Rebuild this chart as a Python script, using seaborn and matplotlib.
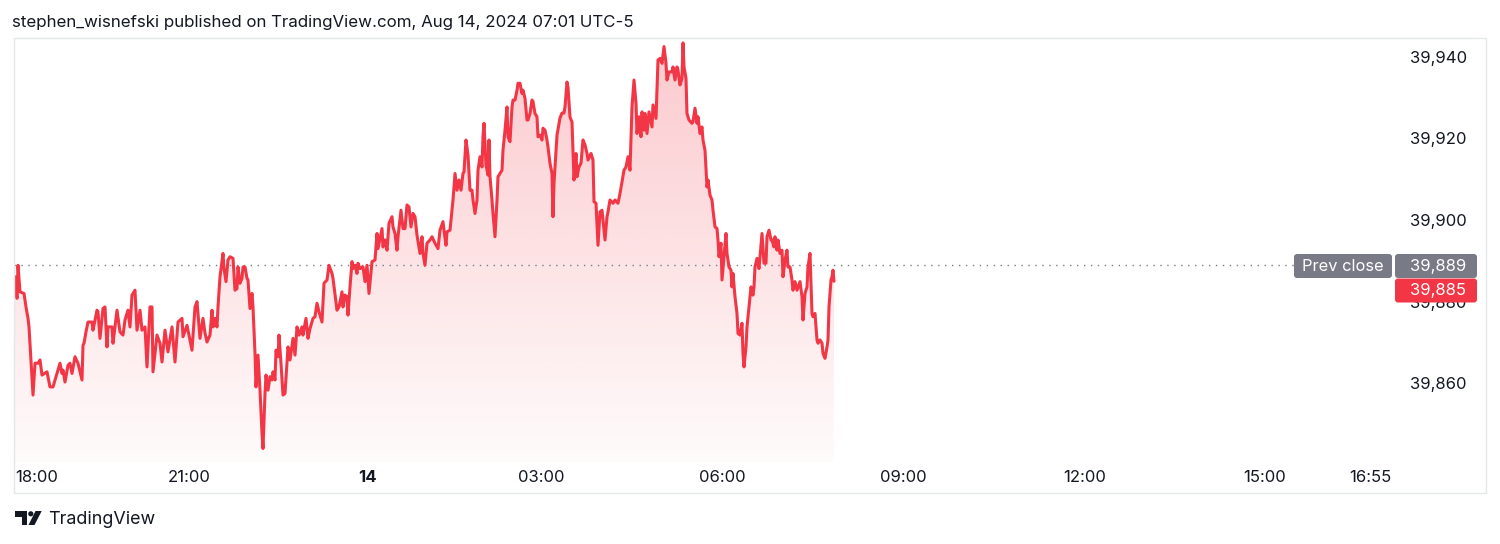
import numpy as np
import pandas as pd
import matplotlib
matplotlib.use("Agg")
import matplotlib.pyplot as plt
import seaborn as sns
from matplotlib.patches import Rectangle, FancyBboxPatch, Polygon, Circle
from matplotlib.transforms import IdentityTransform
from matplotlib.ticker import FuncFormatter

# ---------------- data (bar index ~ minutes since 18:00, price) ----------------
t1 = [0, 2, 3, 5, 9, 11, 13, 14, 18, 20, 23, 25, 27, 32, 35, 38, 43, 45, 47, 48, 50, 53, 55, 57, 60, 63,
      67, 68, 69, 71, 73, 77, 78, 82, 83, 85, 88, 90, 92, 93, 97, 98, 102, 105, 108, 110, 113, 115, 117,
      120, 122, 125, 127, 130, 132, 135, 137, 138, 142, 145, 147, 150, 153, 157, 160, 163, 167, 168, 172,
      177, 180, 182, 185]
p1 = [39886.1, 39880.8, 39888.9, 39882.4, 39882.0, 39878.7, 39875.9, 39873.8, 39857.1, 39864.9, 39864.9,
      39865.7, 39862.0, 39862.8, 39859.1, 39859.1, 39863.2, 39864.9, 39862.4, 39863.2, 39860.3, 39864.4,
      39864.9, 39862.4, 39866.5, 39864.9, 39860.8, 39869.3, 39869.8, 39872.6, 39875.0, 39875.0, 39873.0,
      39877.9, 39877.5, 39871.0, 39878.3, 39878.7, 39868.9, 39873.8, 39873.8, 39869.8, 39877.9, 39872.6,
      39871.8, 39875.5, 39877.9, 39873.8, 39881.6, 39882.8, 39873.0, 39877.9, 39873.0, 39873.8, 39864.0,
      39878.7, 39878.7, 39862.8, 39871.8, 39869.8, 39865.2, 39873.0, 39867.7, 39873.8, 39865.2, 39875.0,
      39875.9, 39871.4, 39874.2, 39868.1, 39878.7, 39880.0, 39871.0]

t2 = [188, 190, 192, 195, 197, 198, 200, 202, 203, 205, 208, 209, 211, 213, 215, 218, 220, 222, 223, 225,
      227, 228, 230, 232, 233, 235, 237, 238, 240, 241, 243, 245, 247, 248, 250, 251, 253, 255, 257, 258,
      260, 261, 263, 264, 266, 268, 270, 272, 273, 275, 278, 280, 282, 284, 287, 288, 291, 293, 295, 298,
      300, 302, 304, 307, 309, 312, 314, 317, 318, 322, 324, 327, 328, 330, 332, 333, 335, 337, 338, 340,
      342, 343, 345]
p2 = [39875.9, 39872.3, 39870.1, 39871.8, 39877.9, 39873.8, 39875.9, 39873.8, 39878.7, 39886.1, 39891.8,
      39888.1, 39884.9, 39890.2, 39891.0, 39890.6, 39882.8, 39883.2, 39888.5, 39884.5, 39885.7, 39888.5,
      39888.5, 39885.7, 39885.3, 39878.3, 39882.0, 39878.7, 39867.3, 39859.1, 39866.9, 39858.3, 39847.7,
      39844.0, 39857.5, 39862.0, 39858.3, 39861.6, 39860.8, 39862.8, 39860.8, 39868.1, 39866.5, 39871.8,
      39864.9, 39857.1, 39857.5, 39864.9, 39868.9, 39865.7, 39871.0, 39866.9, 39873.8, 39871.8, 39873.8,
      39871.8, 39875.9, 39871.0, 39873.4, 39875.9, 39876.3, 39879.6, 39877.5, 39875.0, 39884.5, 39885.3,
      39888.9, 39886.9, 39885.7, 39877.9, 39878.7, 39882.4, 39878.7, 39881.6, 39881.2, 39876.7, 39883.6,
      39889.8, 39888.1, 39888.9, 39886.9, 39889.4, 39888.1]

t3 = [348, 350, 352, 354, 357, 360, 362, 363, 367, 368, 370, 372, 374, 377, 378, 380, 382, 383, 386, 388,
      390, 392, 394, 396, 398, 400, 402, 405, 407, 408, 410, 412, 415, 417, 420, 423, 425, 428, 429, 431,
      432, 435, 438, 440, 442, 444, 446, 448, 449, 451, 453, 455, 457, 458, 460, 462, 463, 465, 467, 468,
      469, 471, 473, 474, 475, 477, 478, 480, 482, 483, 487]
p3 = [39888.5, 39884.9, 39888.9, 39882.0, 39889.8, 39890.2, 39896.7, 39893.0, 39897.9, 39893.4, 39895.1,
      39892.6, 39899.2, 39900.8, 39898.3, 39896.7, 39892.6, 39895.9, 39902.4, 39897.9, 39897.9, 39903.7,
      39903.2, 39898.3, 39901.6, 39900.8, 39896.3, 39891.8, 39895.9, 39891.8, 39888.9, 39894.3, 39895.1,
      39895.9, 39894.3, 39893.0, 39897.5, 39899.6, 39897.5, 39893.8, 39897.1, 39897.5, 39904.9, 39911.4,
      39907.3, 39909.8, 39907.3, 39911.4, 39911.8, 39919.6, 39915.9, 39907.3, 39907.3, 39904.9, 39901.6,
      39904.9, 39912.2, 39915.5, 39913.0, 39920.4, 39923.7, 39913.5, 39911.0, 39919.6, 39910.6, 39904.9,
      39901.6, 39895.9, 39904.9, 39910.6, 39912.2]

t4 = [488, 490, 492, 493, 495, 497, 498, 500, 502, 503, 505, 507, 508, 510, 512, 513, 515, 517, 518, 520,
      522, 523, 525, 527, 528, 530, 532, 533, 535, 537, 538, 539, 542, 545, 547, 549, 550, 552, 553, 555,
      557, 558, 559, 561, 562, 564, 566, 568, 570, 572, 573, 576, 578, 579, 581, 583, 585, 587, 588, 590,
      592, 593, 595, 598, 600, 603, 605, 607, 609, 611, 613, 615, 617, 619, 621, 622, 624, 626, 627, 629,
      630, 632, 634, 637, 638, 641, 643, 645, 647, 649, 651, 652, 654, 657, 658, 660, 662, 663, 665, 667,
      668, 669, 671, 672, 674]
p4 = [39917.1, 39922.0, 39927.7, 39920.4, 39919.2, 39927.7, 39929.4, 39929.4, 39931.8, 39933.5, 39933.5,
      39931.0, 39931.8, 39929.8, 39924.5, 39924.5, 39926.1, 39929.4, 39929.0, 39926.1, 39925.3, 39920.4,
      39920.8, 39919.6, 39922.5, 39922.0, 39919.6, 39917.9, 39913.9, 39911.4, 39900.8, 39909.0, 39920.8,
      39925.0, 39926.2, 39926.2, 39927.7, 39933.8, 39932.6, 39925.2, 39924.0, 39917.1, 39909.8, 39916.3,
      39910.6, 39913.0, 39913.9, 39919.6, 39918.4, 39916.3, 39914.7, 39916.3, 39914.7, 39904.5, 39904.1,
      39893.8, 39902.0, 39902.4, 39900.0, 39895.1, 39900.8, 39902.0, 39904.9, 39904.1, 39904.9, 39904.1,
      39906.5, 39909.4, 39912.2, 39913.0, 39915.5, 39912.2, 39927.7, 39934.3, 39928.6, 39921.2, 39925.3,
      39920.4, 39926.5, 39922.0, 39926.1, 39921.2, 39926.5, 39922.8, 39928.2, 39924.9, 39939.2, 39939.6,
      39938.4, 39942.5, 39938.4, 39934.3, 39936.3, 39936.3, 39937.5, 39934.3, 39937.5, 39936.7, 39933.1,
      39934.7, 39943.4, 39937.5, 39934.7, 39926.1, 39924.5]

t5 = [677, 678, 680, 682, 683, 685, 687, 688, 690, 692, 693, 695, 697, 698, 700, 702, 703, 704, 706, 707,
      709, 711, 712, 714, 716, 717, 718, 720, 722, 723, 725, 727, 728, 729, 731, 732, 734, 736, 738, 739,
      740, 742, 744, 745, 747, 749, 751, 752, 754, 756, 757, 759, 760, 762, 763, 765, 767, 768, 770, 772,
      773, 775, 777, 778, 780, 782, 785, 787, 788, 790, 792, 793, 795, 797, 798, 800, 802, 803, 805, 807,
      808, 810, 812, 813, 814, 816, 817, 818, 819]
p5 = [39923.7, 39924.1, 39927.4, 39923.7, 39925.3, 39921.2, 39922.8, 39919.6, 39917.1, 39908.1, 39909.8,
      39906.1, 39904.9, 39902.4, 39898.3, 39897.9, 39895.1, 39891.0, 39894.3, 39885.3, 39891.0, 39896.7,
      39891.8, 39888.5, 39887.7, 39883.6, 39886.9, 39881.2, 39877.1, 39872.2, 39871.8, 39874.7, 39867.3,
      39864.0, 39868.9, 39873.8, 39878.7, 39883.6, 39881.6, 39883.6, 39888.5, 39890.6, 39888.1, 39891.0,
      39896.7, 39889.4, 39889.4, 39895.9, 39897.5, 39895.1, 39895.1, 39893.4, 39895.9, 39892.6, 39895.1,
      39891.8, 39892.6, 39886.1, 39890.2, 39892.6, 39888.5, 39888.5, 39885.3, 39882.8, 39884.9, 39882.8,
      39884.9, 39881.2, 39875.5, 39882.0, 39883.6, 39888.5, 39891.8, 39877.1, 39876.3, 39877.1, 39870.6,
      39869.8, 39870.6, 39869.8, 39867.3, 39866.1, 39868.9, 39870.6, 39878.7, 39885.3, 39886.1, 39887.7,
      39885.0]

time_tick_pos = [0, 174, 352.5, 526, 707, 888, 1070, 1250, 1355]
time_tick_labels = ["18:00", "21:00", "14", "03:00", "06:00", "09:00", "12:00", "15:00", "16:55"]
price_ticks = [39860, 39880, 39900, 39920, 39940]
prev_close = 39889
last_price = 39885
header = "stephen_wisnefski published on TradingView.com, Aug 14, 2024 07:01 UTC-5"

bars = t1 + t2 + t3 + t4 + t5
prices = p1 + p2 + p3 + p4 + p5
assert len(bars) == len(prices)
df = pd.DataFrame({"bar": bars, "price": prices})

# ---------------- style ----------------
sns.set_theme(style="white")
plt.rcParams["font.family"] = ["Inter", "DejaVu Sans"]

W, H = 1500, 544
RED = "#f23645"
GRAY = "#787b86"
TXT = "#131722"
FS = 12.0

fig = plt.figure(figsize=(W / 100, H / 100), dpi=100)
fig.patch.set_facecolor("white")
T = IdentityTransform()


def Y(y):
    return H - y


pane_l, pane_r, pane_t, pane_b = 14, 1394, 38, 462
ax = fig.add_axes([pane_l / W, 1 - pane_b / H, (pane_r - pane_l) / W, (pane_b - pane_t) / H])
ax.set_facecolor("white")

ybot, ytop = 39840.7, 39944.6
xlo, xhi = -1, 1379

# gradient area fill
poly = ax.fill_between(df["bar"], df["price"], ybot, facecolor="none", edgecolor="none")
path = poly.get_paths()[0]
n = 256
grad = np.zeros((n, 1, 4))
rgb = matplotlib.colors.to_rgb(RED)
grad[:, 0, 0], grad[:, 0, 1], grad[:, 0, 2] = rgb
grad[:, 0, 3] = np.linspace(0.02, 0.27, n)
im = ax.imshow(grad, extent=[df["bar"].min(), df["bar"].max(), ybot, ytop], aspect="auto",
               origin="lower", zorder=1, interpolation="bilinear")
im.set_clip_path(path, transform=ax.transData)

# line
sns.lineplot(data=df, x="bar", y="price", ax=ax, color=RED, linewidth=2.2,
             estimator=None, sort=False, zorder=3)

# prev close dotted line
ax.axhline(prev_close, color=GRAY, linewidth=1.0, linestyle=(0, (1, 4)), zorder=2)

ax.set_xlim(xlo, xhi)
ax.set_ylim(ybot, ytop)
for s in ax.spines.values():
    s.set_visible(False)
ax.grid(False)
ax.set_xlabel("")
ax.set_ylabel("")

ax.set_xticks(time_tick_pos)
ax.set_xticklabels(time_tick_labels)
ax.tick_params(axis="x", length=0, pad=5.5, labelsize=FS, colors=TXT)
xl = ax.get_xticklabels()
xl[0].set_ha("left")
xl[2].set_fontweight("bold")

ax.yaxis.tick_right()
ax.set_yticks(price_ticks)
ax.yaxis.set_major_formatter(FuncFormatter(lambda v, p: f"{v:,.0f}"))
ax.tick_params(axis="y", length=0, pad=11.5, labelsize=FS, colors=TXT)

# frame
fig.add_artist(Rectangle((14, Y(493)), 1472, 455, fill=False, edgecolor="#e4e6ea",
                         linewidth=1, transform=T, zorder=5))

# price labels
def box(x0, y0, w, h, color):
    fig.add_artist(FancyBboxPatch((x0, Y(y0 + h)), w, h, boxstyle="round,pad=0,rounding_size=3",
                                  facecolor=color, edgecolor="none", transform=T, zorder=6))

box(1294, 254, 98, 24, GRAY)
box(1395, 254, 82, 24, GRAY)
box(1395, 278.5, 82, 24, RED)
fig.text(1343, Y(266.5), "Prev close", transform=T, ha="center", va="center",
         color="white", fontsize=11.8, zorder=7)
fig.text(1410, Y(266.5), f"{prev_close:,}", transform=T, ha="left", va="center",
         color="white", fontsize=FS, zorder=7)
fig.text(1410, Y(290.5), f"{last_price:,}", transform=T, ha="left", va="center",
         color="white", fontsize=FS, zorder=7)

# header
fig.text(12, Y(22), header, transform=T, ha="left", va="center", color=TXT, fontsize=12.2)

# footer logo + name
fig.add_artist(Polygon([(15, Y(511)), (27, Y(511)), (27, Y(525)), (21.5, Y(525)),
                        (21.5, Y(516.5)), (15, Y(516.5))], closed=True, facecolor=TXT,
                       edgecolor="none", transform=T))
fig.add_artist(Circle((30.8, Y(513.8)), 2.6, facecolor=TXT, edgecolor="none", transform=T))
fig.add_artist(Polygon([(35.5, Y(511)), (41.7, Y(511)), (34.5, Y(525)), (28.5, Y(525))],
                       closed=True, facecolor=TXT, edgecolor="none", transform=T))
fig.text(48, Y(519.5), "TradingView", transform=T, ha="left", va="center", color=TXT,
         fontsize=12.9)

fig.savefig("out.png", dpi=100, facecolor="white")
